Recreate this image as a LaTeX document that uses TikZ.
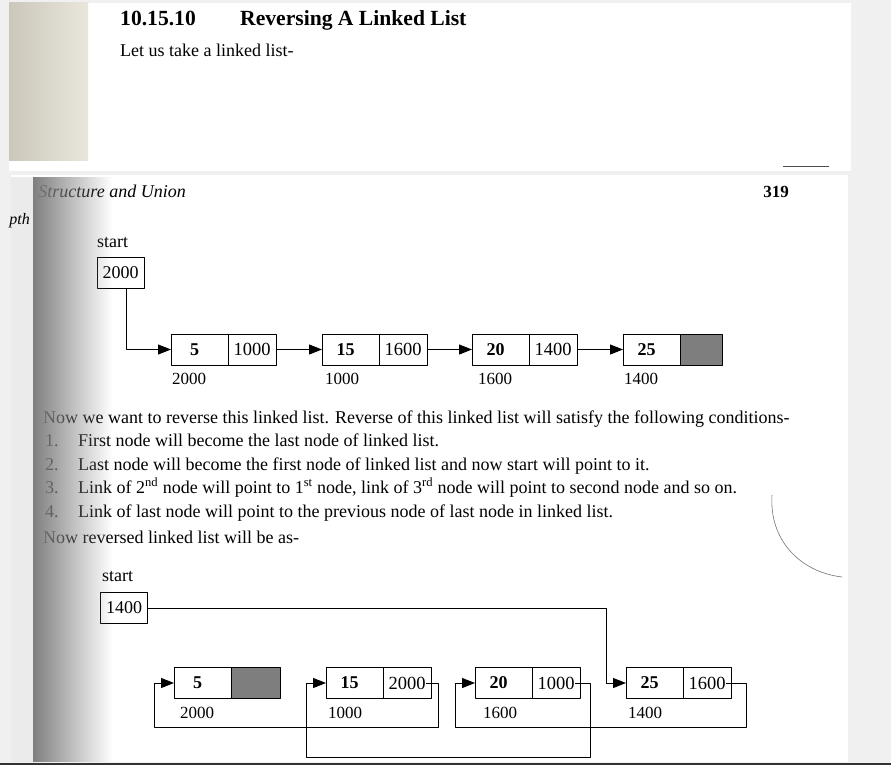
\documentclass[tikz,border=0pt]{standalone}
\usepackage{fontspec}
\setmainfont{Liberation Serif}
\usetikzlibrary{positioning,arrows.meta,fadings}
\definecolor{pagegray}{HTML}{F0F0F0}
\definecolor{edgedark}{HTML}{CBC7BB}
\definecolor{edgelight}{HTML}{E9E6DC}
\definecolor{nullgray}{HTML}{7E7E7E}
\tikzset{
  datapart/.style={draw,line width=1pt,inner sep=0pt,outer sep=0pt,minimum height=31pt,
    minimum width=57pt,anchor=west,font=\fontsize{18}{20}\selectfont\bfseries},
  linkpart/.style={draw,line width=1pt,inner sep=0pt,outer sep=0pt,minimum height=31pt,
    minimum width=48pt,font=\fontsize{18.5}{20}\selectfont},
  startbox/.style={draw,line width=0.9pt,inner sep=0pt,outer sep=0pt,minimum width=47pt,
    minimum height=31pt,font=\fontsize{18}{20}\selectfont},
  txt/.style={anchor=base west,inner sep=0pt,font=\fontsize{18}{20}\selectfont},
  addr/.style={anchor=base west,inner sep=0pt,font=\fontsize{17}{19}\selectfont},
  arr/.style={-{Triangle[length=13pt,width=10pt]},line width=1pt},
  link/.style={line width=1pt}
}
\begin{document}
\begin{tikzpicture}[x=1pt,y=-1pt,line join=round]
\useasboundingbox (0,0) rectangle (891,765);
% paper
\fill[pagegray] (0,0) rectangle (891,765);
\fill[white] (9,3) rectangle (851,171);
\shade[left color=edgedark,right color=edgelight] (9,3) rectangle (88,160);
\fill[white] (11,175) rectangle (848,762);
\fill[black!8] (11,177) rectangle (33,762);
% heading and text of upper part
\node[txt,font=\fontsize{21.6}{24}\selectfont\bfseries] (num) at (120,26) {10.15.10};
\node[txt,font=\fontsize{21.6}{24}\selectfont\bfseries] (title) at (240,26) {Reversing A Linked List};
\node[txt] (intro) at (120,57) {Let us take a linked list-};
\draw[black!70,line width=0.8pt] (783,166) -- (829,166);
% running head
\node[txt,anchor=base east,font=\fontsize{18}{20}\selectfont\itshape] (head) at (186,197) {Structure and Union};
\node[txt,anchor=base east,font=\fontsize{17}{20}\selectfont\bfseries] (page) at (789,197) {319};
\node[txt,anchor=base east,font=\fontsize{16}{18}\selectfont\itshape] (pth) at (30,224) {pth};
% first list
\node[txt] (st1) at (97,247) {start};
\node[startbox] (s1) at (120.5,272.5) {2000};
\foreach \i/\x/\v/\l in {1/171/5/1000,2/322/15/1600,3/472/20/1400}{
  \node[datapart] (a\i) at (\x,349.5) {\v\hspace*{10pt}};
  \node[linkpart,right=0pt of a\i] (l\i) {\l};
}
\node[datapart] (a4) at (623,349.5) {25\hspace*{10pt}};
\node[linkpart,fill=nullgray,minimum width=42pt,right=0pt of a4] (l4) {};
\foreach \x/\t [count=\i] in {172/2000,325/1000,478/1600,624/1400}
  \node[addr] (w\i) at (\x,384) {\t};
\draw[arr] ([xshift=5.5pt]s1.south) |- (a1.west);
\foreach \p/\q in {l1/a2,l2/a3,l3/a4}
  \draw[arr] (\p.east) -- (\q.west);
% conditions
\node[txt] (c0) at (43,423) {Now we want to reverse this linked list. Reverse of this linked list will satisfy the following conditions-};
\node[txt] (n1) at (45,446) {1.};
\node[txt] (c1) at (78,446) {First node will become the last node of linked list.};
\node[txt] (n2) at (45,470) {2.};
\node[txt] (c2) at (78,470) {Last node will become the first node of linked list and now start will point to it.};
\node[txt] (n3) at (45,493) {3.};
\node[txt] (c3) at (78,493) {Link of 2\textsuperscript{nd} node will point to 1\textsuperscript{st} node, link of 3\textsuperscript{rd} node will point to second node and so on.};
\node[txt] (n4) at (45,517) {4.};
\node[txt] (c4) at (78,517) {Link of last node will point to the previous node of last node in linked list.};
\node[txt] (c5) at (43,543) {Now reversed linked list will be as-};
\draw[black!55,line width=0.6pt] (772,495) .. controls (769,540) and (800,572) .. (842,577);
% reversed list
\node[txt] (st2) at (102,581) {start};
\node[startbox] (s2) at (124,608) {1400};
\node[datapart] (b1) at (174,683) {5\hspace*{10pt}};
\node[linkpart,fill=nullgray,minimum width=49pt,right=0pt of b1] (m1) {};
\foreach \i/\x/\v/\l in {2/326/15/2000,3/475/20/1000,4/626/25/1600}{
  \node[datapart] (b\i) at (\x,683) {\v\hspace*{10pt}};
  \node[linkpart,right=0pt of b\i] (m\i) {\l};
}
\foreach \x/\t [count=\i] in {180/2000,328/1000,483/1600,628/1400}
  \node[addr] (v\i) at (\x,718) {\t};
\draw[arr] (s2.east) -| ([xshift=-20pt]b4.west) |- (b4.west);
\draw[arr] ([xshift=-5pt]m2.east) -| ([xshift=7pt,yshift=-44pt]m2.east)
  -| ([xshift=-20pt]b1.west) |- (b1.west);
\draw[arr] ([xshift=-5pt]m3.east) -| ([xshift=10pt,yshift=-74pt]m3.east)
  -| ([xshift=-20pt]b2.west) |- (b2.west);
\draw[arr] ([xshift=-5pt]m4.east) -| ([xshift=15pt,yshift=-44pt]m4.east)
  -| ([xshift=-20pt]b3.west) |- (b3.west);
% spine shadow and bottom edge
\fill[black!50,path fading=east] (33,177) rectangle (112,762);
\draw[black!80,line width=2pt] (0,764) -- (891,764);
\end{tikzpicture}
\end{document}
